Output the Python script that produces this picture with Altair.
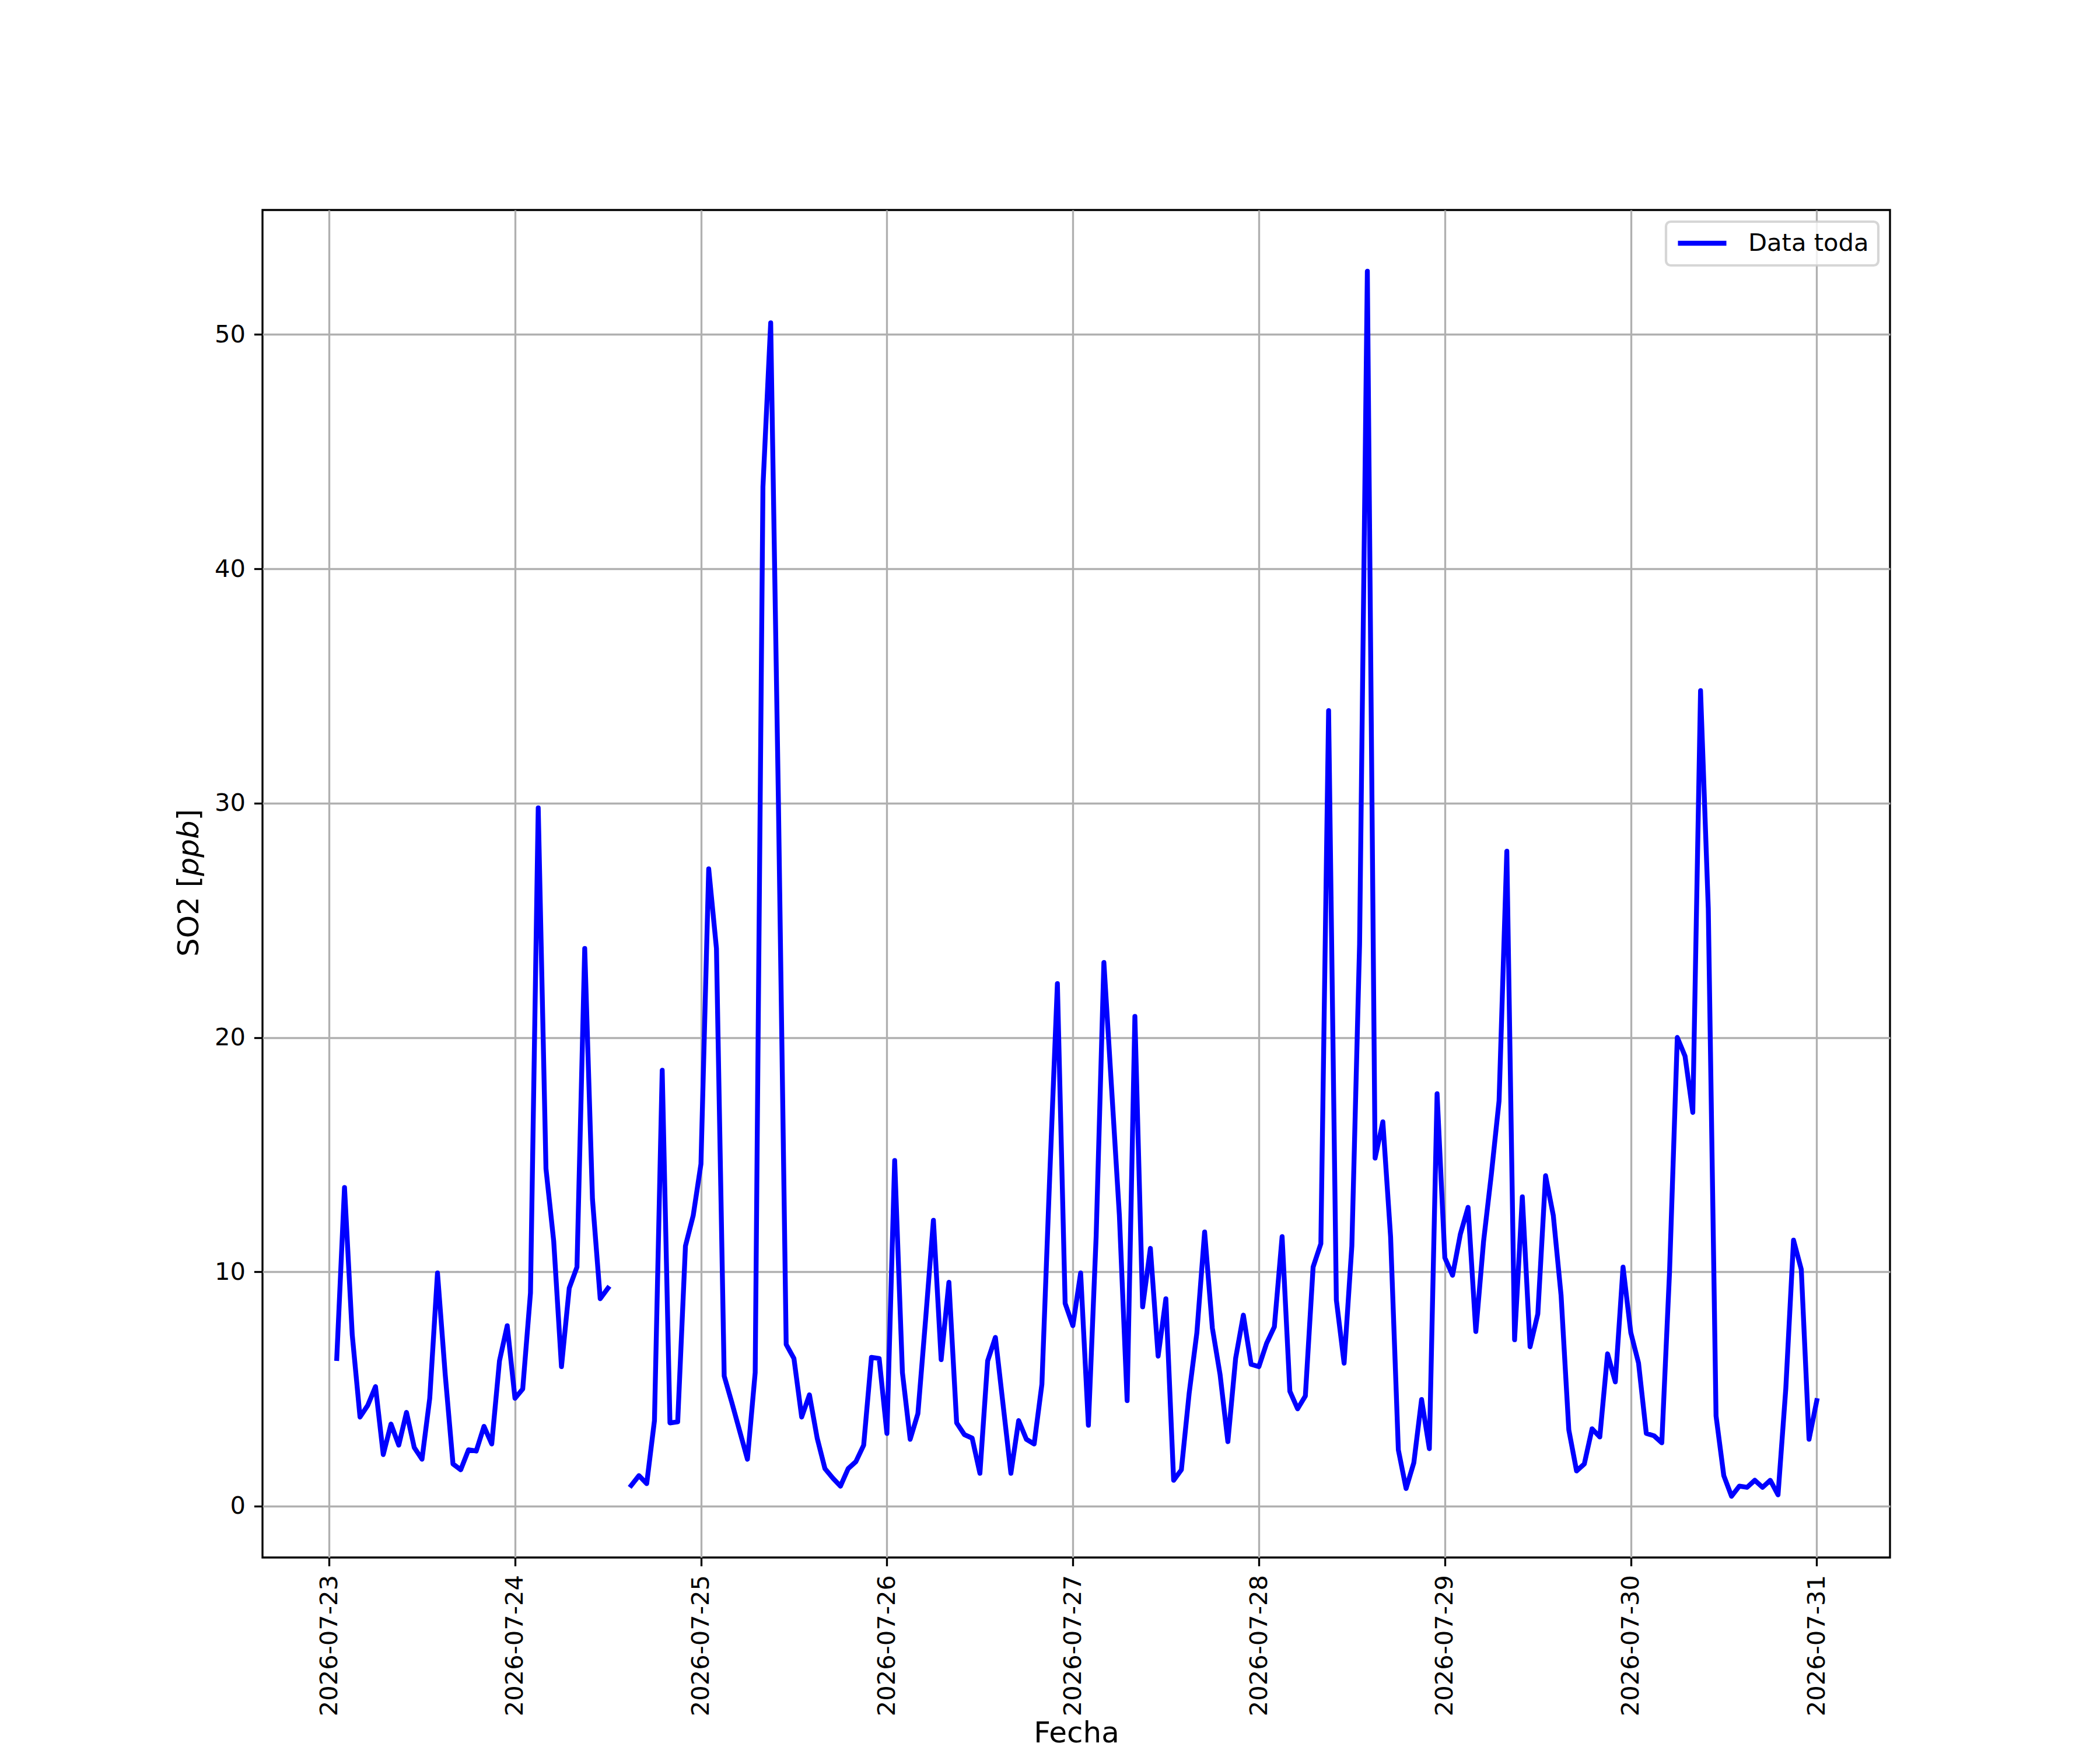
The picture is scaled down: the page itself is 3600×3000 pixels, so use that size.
import altair as alt
import pandas as pd

# Hourly SO2 readings, 2026-07-23 01:00 .. 2026-07-31 00:00 (None = missing)
d23 = [6.3, 13.6, 7.3, 3.8, 4.3, 5.1, 2.2, 3.5, 2.6, 4.0, 2.5, 2.0, 4.6, 9.95,
       5.6, 1.8, 1.55, 2.4, 2.35, 3.4, 2.65, 6.2, 7.7]
d24 = [4.6, 5.0, 9.1, 29.8, 14.4, 11.3, 5.95, 9.3, 10.2, 23.8, 13.1, 8.85,
       9.3, None, None, 0.88, 1.3, 0.96, 3.65, 18.6, 3.55, 3.6, 11.1, 12.4]
d25 = [14.6, 27.2, 23.8, 5.55, 4.4, 3.2, 2.0, 5.7, 43.5, 50.5, 30.0, 6.9,
       6.3, 3.8, 4.75, 2.9, 1.6, 1.2, 0.85, 1.6, 1.9, 2.6, 6.35, 6.3]
d26 = [3.1, 14.75, 5.7, 2.85, 3.95, 8.0, 12.2, 6.25, 9.55, 3.55, 3.05, 2.9,
       1.4, 6.2, 7.2, 4.3, 1.4, 3.65, 2.85, 2.65, 5.2, 14.0, 22.3, 8.65]
d27 = [7.7, 9.95, 3.45, 11.5, 23.2, 17.8, 12.4, 4.5, 20.9, 8.5, 11.0, 6.4,
       8.85, 1.1, 1.55, 4.8, 7.4, 11.7, 7.6, 5.6, 2.75, 6.3, 8.15, 6.05]
d28 = [5.95, 6.95, 7.65, 11.5, 4.9, 4.15, 4.7, 10.2, 11.2, 33.95, 8.8, 6.1,
       11.1, 24.0, 52.7, 14.85, 16.4, 11.5, 2.4, 0.75, 1.85, 4.55, 2.45, 17.6]
d29 = [10.6, 9.85, 11.6, 12.75, 7.45, 11.3, 14.15, 17.3, 27.95, 7.1, 13.2, 6.8,
       8.2, 14.1, 12.4, 9.0, 3.25, 1.5, 1.8, 3.3, 2.95, 6.5, 5.3, 10.2]
d30 = [7.4, 6.1, 3.1, 3.0, 2.7, 10.0, 20.0, 19.2, 16.8, 34.8, 25.5, 3.85,
       1.3, 0.42, 0.85, 0.8, 1.1, 0.8, 1.1, 0.48, 5.0, 11.35, 10.1, 2.85]
d31 = [4.5]

values = d23 + d24 + d25 + d26 + d27 + d28 + d29 + d30 + d31
times = pd.date_range("2026-07-23 01:00", periods=len(values), freq="h")
tick_days = list(range(23, 32))
series_name = "Data toda"

df = pd.DataFrame({
    "t": [t.strftime("%Y-%m-%dT%H:%M:%S") for t in times],
    "v": values,
    "serie": series_name,
})

valid = [v for v in values if v is not None]
vmin, vmax = min(valid), max(valid)
pad = 0.05 * (vmax - vmin)

FONT = "DejaVu Sans"
LW = 3.33
LINE_W = 8.33

line = alt.Chart(df).mark_line(
    strokeWidth=LINE_W, strokeJoin="round", strokeCap="square",
    invalid="break-paths-show-domains",
).encode(
    x=alt.X(
        "t:T",
        scale=alt.Scale(domain=[
            alt.DateTime(year=2026, month=7, date=22, hours=15, minutes=25),
            alt.DateTime(year=2026, month=7, date=31, hours=9, minutes=27),
        ]),
        axis=alt.Axis(
            values=[alt.DateTime(year=2026, month=7, date=d) for d in tick_days],
            format="%Y-%m-%d", labelAngle=270, labelAlign="right",
            labelBaseline="middle", title="Fecha", titleY=316,
            titleBaseline="alphabetic", labelLimit=1000,
        ),
    ),
    y=alt.Y(
        "v:Q",
        scale=alt.Scale(domain=[vmin - pad, vmax + pad], nice=False, zero=False),
        axis=alt.Axis(values=[0, 10, 20, 30, 40, 50], format="d", title=""),
    ),
    color=alt.Color(
        "serie:N",
        scale=alt.Scale(domain=[series_name], range=["#0000ff"]),
        legend=alt.Legend(
            title=None, orient="top-right", offset=20, padding=16,
            fillColor="rgba(255,255,255,0.8)", strokeColor="rgba(204,204,204,0.8)",
            cornerRadius=8, symbolType="stroke",
            symbolSize=6900, symbolStrokeWidth=LINE_W, labelFontSize=41.67,
            labelFont=FONT, labelColor="black", labelOffset=33, clipHeight=42,
            labelLimit=1000,
        ),
    ),
)

one = pd.DataFrame({"k": [0]})
ytitle_parts = [("SO2 [", "normal", 1280), ("ppb", "italic", 1141.7), ("]", "normal", 1046.4)]
texts = []
for txt, style, ypos in ytitle_parts:
    texts.append(
        alt.Chart(one).mark_text(
            text=txt, font=FONT, fontSize=50, fontStyle=style, angle=270,
            align="left", baseline="alphabetic", color="black",
        ).encode(x=alt.value(-110), y=alt.value(ypos))
    )

chart = alt.layer(line, *texts).properties(
    width=2790, height=2310,
    autosize=alt.AutoSizeParams(type="none"),
    padding={"left": 442, "top": 352, "right": 300, "bottom": 328},
).configure_view(
    stroke="black", strokeWidth=LW,
).configure_axis(
    domain=False, grid=True, gridColor="#b0b0b0", gridWidth=LW,
    tickColor="black", tickWidth=LW, tickSize=14.58,
    labelFont=FONT, labelFontSize=41.67, labelColor="black", labelPadding=15,
    titleFont=FONT, titleFontSize=50, titleFontWeight="normal", titleColor="black",
    labelOverlap=False, labelFlush=False,
).configure_legend(
    strokeWidth=4.2,
)

chart.save("out.html", embed_options={"renderer": "svg", "actions": False})
